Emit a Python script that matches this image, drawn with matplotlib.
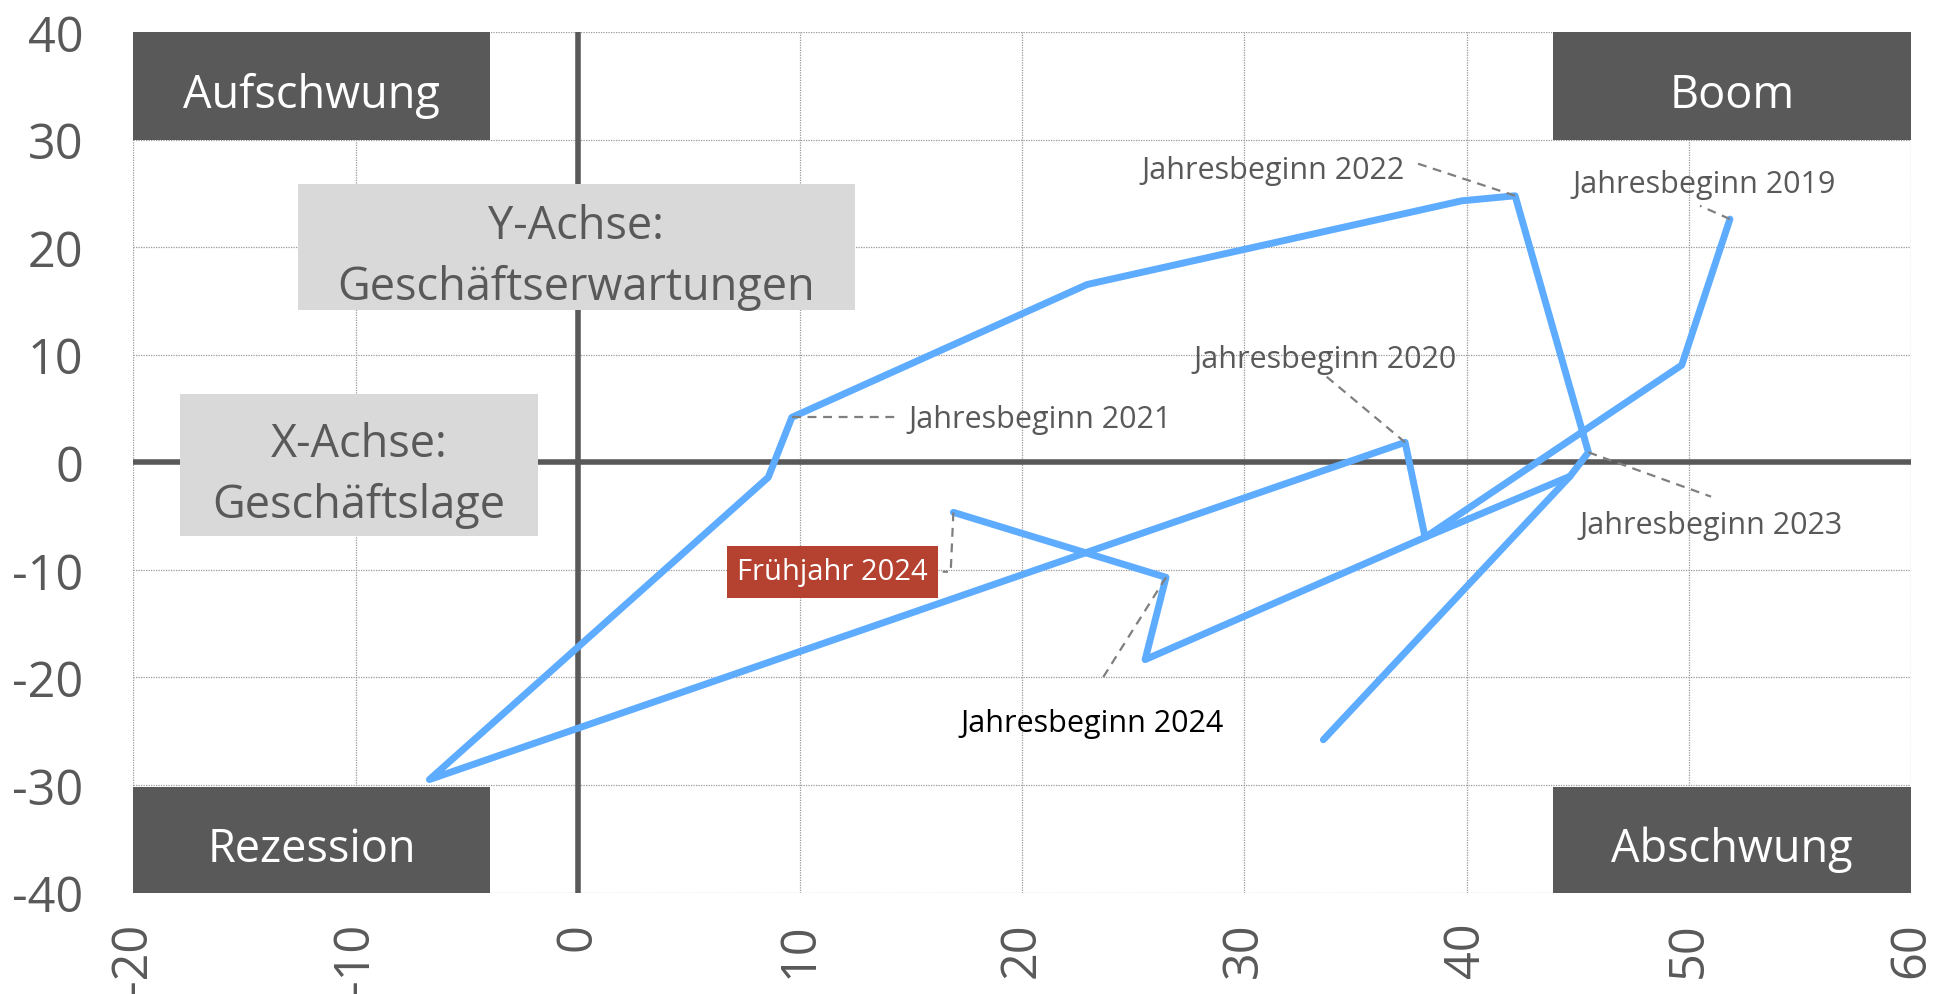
import matplotlib
matplotlib.use("Agg")
import matplotlib.pyplot as plt
from matplotlib.patches import Rectangle
import numpy as np

plt.rcParams['font.family'] = ['Open Sans', 'DejaVu Sans']

# ---- data (Geschäftslage x, Geschäftserwartungen y) ----
main_x = [51.85, 49.68, 38.13, 37.23, -6.68, 8.57, 9.63, 22.92, 39.78, 42.18, 45.48, 44.65, 33.55]
main_y = [22.60, 9.03, -6.98, 1.85, -29.5, -1.40, 4.17, 16.52, 24.30, 24.77, 0.92, -1.31, -25.8]
tail_x = [44.65, 38.13, 25.53, 26.47, 16.90]
tail_y = [-1.31, -6.98, -18.35, -10.70, -4.66]

x_ticks = [-20, -10, 0, 10, 20, 30, 40, 50, 60]
y_ticks = [-40, -30, -20, -10, 0, 10, 20, 30, 40]

quadrants = ["Aufschwung", "Boom", "Rezession", "Abschwung"]
axis_notes = ["Y-Achse:\nGeschäftserwartungen", "X-Achse:\nGeschäftslage"]

# annotations: text, point (x,y), text position, leader end
ann_text = ["Jahresbeginn 2019", "Jahresbeginn 2020", "Jahresbeginn 2021",
            "Jahresbeginn 2022", "Jahresbeginn 2023", "Jahresbeginn 2024"]
ann_pt = [(51.85, 22.60), (37.23, 1.85), (9.63, 4.17), (42.18, 24.77), (45.48, 0.92), (26.47, -10.70)]
ann_pos = [(50.7, 25.83), (33.65, 9.64), (14.9, 4.0), (31.3, 27.2), (51.0, -5.86), (23.14, -24.2)]
ann_lead = [(50.5, 23.84), (33.65, 8.03), (14.3, 4.17), (37.77, 27.78), (51.0, -3.2), (23.5, -20.45)]

spring_label = "Frühjahr 2024"
spring_pt = (16.90, -4.66)

BLUE = "#5eacff"
DARK = "#595959"
LIGHT = "#d9d9d9"
RED = "#b54231"
LEAD = "#7f7f7f"

fig = plt.figure(figsize=(19.37, 9.95), dpi=100)
ax = fig.add_axes([0.0689, 0.1020, 0.9177, 0.8649])
ax.set_xlim(-20, 60)
ax.set_ylim(-40, 40)
for s in ax.spines.values():
    s.set_visible(False)
ax.set_xticks(x_ticks)
ax.set_yticks(y_ticks)
ax.set_xticklabels([str(v) for v in x_ticks], rotation=90)
ax.set_yticklabels([str(v) for v in y_ticks])
ax.tick_params(axis='both', length=0, labelsize=35, colors=DARK)
ax.tick_params(axis='y', pad=36)
ax.tick_params(axis='x', pad=21)
ax.grid(True, linestyle=(0, (1, 1)), color="#999999", linewidth=0.9)
ax.set_axisbelow(True)

ax.axhline(0, color=DARK, lw=4.0, zorder=1)
ax.axvline(0, color=DARK, lw=4.0, zorder=1)

# quadrant boxes
qboxes = [(-20, 30, 16.06, 10), (43.9, 30, 16.1, 10), (-20, -40, 16.06, 9.8), (43.9, -40, 16.1, 9.8)]
for (bx, by, bw, bh), lab in zip(qboxes, quadrants):
    ax.add_patch(Rectangle((bx, by), bw, bh, facecolor=DARK, edgecolor='none', zorder=3, clip_on=False))
    ax.text(bx + bw / 2, by + bh / 2 - 0.85, lab, color='white', fontsize=32.5, ha='center', va='center', zorder=4)

# axis note boxes
nboxes = [(-12.6, 14.12, 25.07, 11.71), (-17.9, -6.9, 16.1, 13.21)]
for (bx, by, bw, bh), lab in zip(nboxes, axis_notes):
    ax.add_patch(Rectangle((bx, by), bw, bh, facecolor=LIGHT, edgecolor='none', zorder=3))
    ax.text(bx + bw / 2, by + bh / 2 - 0.85, lab, color=DARK, fontsize=32.5, ha='center', va='center',
            linespacing=1.42, zorder=4)

# series
ax.plot(main_x, main_y, color=BLUE, lw=5, solid_capstyle='round', solid_joinstyle='round', zorder=5)
ax.plot(tail_x, tail_y, color=BLUE, lw=5, solid_capstyle='round', solid_joinstyle='round', zorder=5)

# annotations
for i, (t, p, pos, le) in enumerate(zip(ann_text, ann_pt, ann_pos, ann_lead)):
    ax.plot([p[0], le[0]], [p[1], le[1]], color=LEAD, lw=1.6, linestyle=(0, (4, 3)), zorder=6)
    col = 'black' if '2024' in t else DARK
    ha = 'left' if '2021' in t else 'center'
    ax.text(pos[0], pos[1], t, color=col, fontsize=22, ha=ha, va='center', zorder=7)

# Frühjahr 2024 label
ax.plot([spring_pt[0], 16.78, 16.42], [spring_pt[1], -10.18, -10.18], color=LEAD, lw=1.6,
        linestyle=(0, (4, 3)), zorder=6)
ax.add_patch(Rectangle((6.73, -12.6), 9.47, 4.8, facecolor=RED, edgecolor='none', zorder=6))
ax.text(6.73 + 9.47 / 2, -12.6 + 2.4, spring_label, color='white', fontsize=21, ha='center', va='center', zorder=7)

fig.savefig("out.png", dpi=100)
